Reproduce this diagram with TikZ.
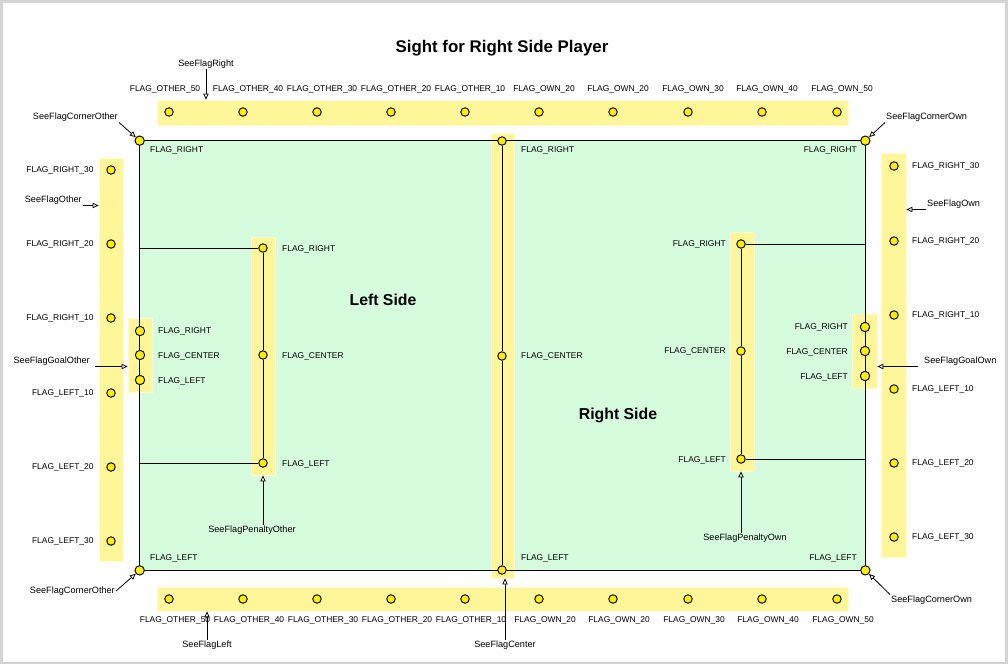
\documentclass[tikz,border=0pt]{standalone}
\usepackage{fontspec}
\setsansfont{Liberation Sans}
\usetikzlibrary{positioning,fit,arrows.meta}
\definecolor{pitchGreen}{RGB}{213,253,221}
\definecolor{sightBand}{RGB}{255,246,153}
\definecolor{sightBandEdge}{RGB}{255,252,214}
\definecolor{flagYellow}{RGB}{255,238,0}
\definecolor{frameGray}{RGB}{212,212,212}
\tikzset{
    flagBand/.style={
        rectangle,
        fill=sightBand,
        draw=sightBandEdge,
        line width=0.4pt,
        inner sep=0pt
    },
    flagDot/.style={
        circle,
        draw=black,
        fill=flagYellow,
        line width=0.55pt,
        minimum size=4.8pt,
        inner sep=0pt
    },
    cornerDot/.style={flagDot, minimum size=5.3pt},
    % Texts
    flagText/.style={font=\sffamily\fontsize{4.8}{5}\selectfont, inner sep=0.5pt},
    seeText/.style={font=\sffamily\fontsize{5.2}{6}\selectfont, inner sep=0.5pt},
    sideText/.style={font=\sffamily\bfseries\fontsize{9}{10}\selectfont},
    % Lines
    seeArrow/.style={-{Triangle[open,length=3.4pt,width=3pt]}, line width=0.45pt},
    pitchLine/.style={line width=0.5pt}
}
\begin{document}
\begin{tikzpicture}[x=0.02cm, y=-0.02cm]
    \fill[frameGray] (0,0) rectangle (1008,664);
    \fill[white] (3,3) rectangle (1005,662);
    \useasboundingbox (0,0) rectangle (1008,664);

    \node[sideText, font=\sffamily\bfseries\fontsize{9.6}{11}\selectfont] (title) at (502,48) {Sight for Right Side Player};

    % pitch and sight bands
    \node[fill=pitchGreen, inner sep=0pt, fit={(140,141) (865,570)}] (pitch) {};
    \node[flagBand, fit={(157,100) (848,125)}] (bandTop) {};
    \node[flagBand, fit={(157,587) (848,611)}] (bandBottom) {};
    \node[flagBand, fit={(99,158) (123,561)}] (bandOther) {};
    \node[flagBand, fit={(881,153) (906,557)}] (bandOwn) {};
    \node[flagBand, fit={(491,133) (514,578)}] (bandCenter) {};
    \node[flagBand, fit={(128,318) (152,392)}] (goalOther) {};
    \node[flagBand, fit={(852,314) (877,388)}] (goalOwn) {};
    \node[flagBand, fit={(251,237) (275,475)}] (penaltyOther) {};
    \node[flagBand, fit={(730,232) (754,471)}] (penaltyOwn) {};
    \draw[pitchLine] (pitch.north west) rectangle (pitch.south east);

    \node[sideText] (leftSide) at (383,300) {Left Side};
    \node[sideText] (rightSide) at (618,415) {Right Side};

    % corners
    \node[cornerDot] (cornerTL) at (pitch.north west) {};
    \node[cornerDot] (cornerTR) at (pitch.north east) {};
    \node[cornerDot] (cornerBL) at (pitch.south west) {};
    \node[cornerDot] (cornerBR) at (pitch.south east) {};
    \node[flagText, anchor=west] (cornerTLText) at (149,150) {FLAG\_RIGHT};
    \node[flagText, anchor=east] (cornerTRText) at (858,150) {FLAG\_RIGHT};
    \node[flagText, anchor=west] (cornerBLText) at (149,558) {FLAG\_LEFT};
    \node[flagText, anchor=east] (cornerBRText) at (858,558) {FLAG\_LEFT};

    % top and bottom lines of flags
    \foreach \x/\dx/\name [count=\i] in {169/0/OTHER\_50, 243/9/OTHER\_40, 317/9/OTHER\_30, 391/9/OTHER\_20, 465/9/OTHER\_10, 539/9/OWN\_20, 613/9/OWN\_20, 688/9/OWN\_30, 762/9/OWN\_40, 837/9/OWN\_50} {
        \node[flagDot] (top\i) at (\x,112) {};
        \node[flagText] (topText\i) at (\x-4+\dx,89) {FLAG\_\name};
        \node[flagDot] (bottom\i) at (\x,599) {};
        \node[flagText] (bottomText\i) at (\x+6,620) {FLAG\_\name};
    }

    % side lines of flags
    \foreach \y/\name [count=\i] in {170/RIGHT\_30, 244/RIGHT\_20, 318/RIGHT\_10, 393/LEFT\_10, 467/LEFT\_20, 541/LEFT\_30} {
        \node[flagDot] (other\i) at (111,\y) {};
        \node[flagText, left=6.6pt of other\i] (otherText\i) {FLAG\_\name};
    }
    \foreach \y/\name [count=\i] in {166/RIGHT\_30, 241/RIGHT\_20, 315/RIGHT\_10, 389/LEFT\_10, 463/LEFT\_20, 537/LEFT\_30} {
        \node[flagDot] (own\i) at (894,\y) {};
        \node[flagText, right=7pt of own\i] (ownText\i) {FLAG\_\name};
    }

    % center line
    \node[flagDot] (centerR) at (502,141) {};
    \node[flagDot] (centerC) at (502,356) {};
    \node[flagDot] (centerL) at (502,570) {};
    \draw[pitchLine] (centerR) -- (centerC) -- (centerL);
    \node[flagText, anchor=west] (centerRText) at (520,150) {FLAG\_RIGHT};
    \node[flagText, anchor=west] (centerCText) at (520,356) {FLAG\_CENTER};
    \node[flagText, anchor=west] (centerLText) at (520,558) {FLAG\_LEFT};

    % goals
    \node[cornerDot] (goalOR) at (140,331) {};
    \node[cornerDot] (goalOC) at (140,355) {};
    \node[cornerDot] (goalOL) at (140,380) {};
    \node[flagText, anchor=west] (goalORText) at (157,331) {FLAG\_RIGHT};
    \node[flagText, anchor=west] (goalOCText) at (157,356) {FLAG\_CENTER};
    \node[flagText, anchor=west] (goalOLText) at (157,381) {FLAG\_LEFT};
    \node[cornerDot] (goalWR) at (865,327) {};
    \node[cornerDot] (goalWC) at (865,351) {};
    \node[cornerDot] (goalWL) at (865,376) {};
    \node[flagText, anchor=east] (goalWRText) at (849,327) {FLAG\_RIGHT};
    \node[flagText, anchor=east] (goalWCText) at (849,352) {FLAG\_CENTER};
    \node[flagText, anchor=east] (goalWLText) at (849,377) {FLAG\_LEFT};

    % penalty areas
    \node[flagDot] (penOR) at (263,248) {};
    \node[flagDot] (penOC) at (263,355) {};
    \node[flagDot] (penOL) at (263,463) {};
    \draw[pitchLine] (penOR) -- (penOC) -- (penOL);
    \draw[pitchLine] (penOR) -- (penOR -| pitch.west);
    \draw[pitchLine] (penOL) -- (penOL -| pitch.west);
    \node[flagText, anchor=west] (penORText) at (281,249) {FLAG\_RIGHT};
    \node[flagText, anchor=west] (penOCText) at (281,356) {FLAG\_CENTER};
    \node[flagText, anchor=west] (penOLText) at (281,464) {FLAG\_LEFT};
    \node[flagDot] (penWR) at (741,244) {};
    \node[flagDot] (penWC) at (741,351) {};
    \node[flagDot] (penWL) at (741,459) {};
    \draw[pitchLine] (penWR) -- (penWC) -- (penWL);
    \draw[pitchLine] (penWR) -- (penWR -| pitch.east);
    \draw[pitchLine] (penWL) -- (penWL -| pitch.east);
    \node[flagText, anchor=east] (penWRText) at (727,244) {FLAG\_RIGHT};
    \node[flagText, anchor=east] (penWCText) at (727,351) {FLAG\_CENTER};
    \node[flagText, anchor=east] (penWLText) at (727,460) {FLAG\_LEFT};

    % see-flag hints
    \node[seeText] (seeRight) at (206,64) {SeeFlagRight};
    \node[seeText] (seeLeft) at (207,645) {SeeFlagLeft};
    \node[seeText] (seeCenter) at (505,645) {SeeFlagCenter};
    \node[seeText, anchor=east] (seeCornerOtherT) at (119,117) {SeeFlagCornerOther};
    \node[seeText, anchor=west] (seeCornerOwnT) at (885,117) {SeeFlagCornerOwn};
    \node[seeText, anchor=east] (seeCornerOtherB) at (116,591) {SeeFlagCornerOther};
    \node[seeText, anchor=west] (seeCornerOwnB) at (890,600) {SeeFlagCornerOwn};
    \node[seeText, anchor=east] (seeOther) at (83,200) {SeeFlagOther};
    \node[seeText, anchor=west] (seeOwn) at (926,204) {SeeFlagOwn};
    \node[seeText, anchor=east] (seeGoalOther) at (91,361) {SeeFlagGoalOther};
    \node[seeText, anchor=west] (seeGoalOwn) at (923,361) {SeeFlagGoalOwn};
    \node[seeText] (seePenOther) at (252,530) {SeeFlagPenaltyOther};
    \node[seeText] (seePenOwn) at (745,538) {SeeFlagPenaltyOwn};

    \draw[seeArrow] (seeRight.south) -- (seeRight.south |- bandTop.north);
    \draw[seeArrow] (seeLeft.north) -- (seeLeft.north |- bandBottom.south);
    \draw[seeArrow] (seeCenter.north) -- (seeCenter.north |- bandCenter.south);
    \draw[seeArrow] (seeCornerOtherT.south east) -- (cornerTL);
    \draw[seeArrow] (seeCornerOwnT.south west) -- (cornerTR);
    \draw[seeArrow] (seeCornerOtherB.east) -- (cornerBL);
    \draw[seeArrow] (seeCornerOwnB.north west) -- (cornerBR);
    \draw[seeArrow] (seeOther.south east) -- (seeOther.south east -| bandOther.west);
    \draw[seeArrow] (seeOwn.south west) -- (seeOwn.south west -| bandOwn.east);
    \draw[seeArrow] ([xshift=2pt]seeGoalOther.south east) -- (seeGoalOther.south east -| goalOther.west);
    \draw[seeArrow] ([xshift=-3pt]seeGoalOwn.south west) -- (seeGoalOwn.south west -| goalOwn.east);
    \draw[seeArrow] (penOL |- seePenOther.north) -- (penOL |- penaltyOther.south);
    \draw[seeArrow] (penWL |- seePenOwn.north) -- (penWL |- penaltyOwn.south);
\end{tikzpicture}
\end{document}
